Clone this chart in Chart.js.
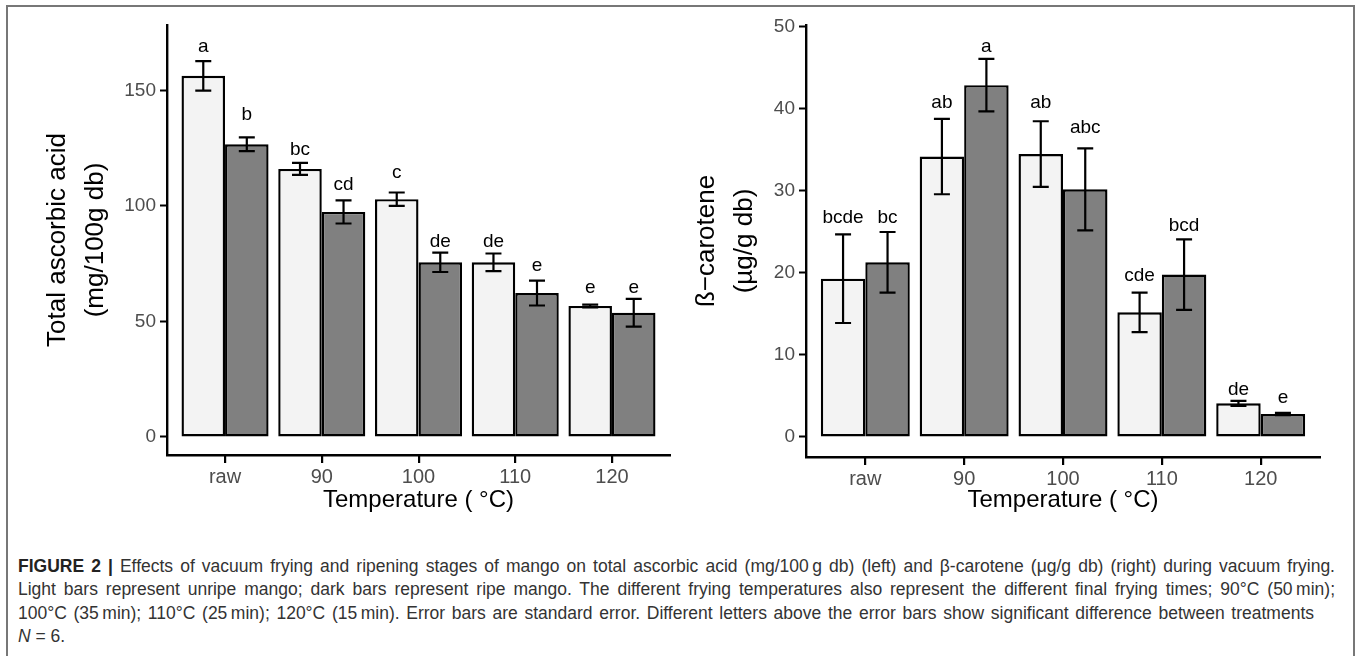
<!DOCTYPE html>
<html>
<head>
<meta charset="utf-8">
<script src="https://cdn.jsdelivr.net/npm/chart.js@4.4.0/dist/chart.umd.min.js"></script>
<style>
  body { margin: 0; background: #fff; width: 1360px; height: 656px; overflow: hidden; position: relative; font-family: 'Liberation Sans', Arial, sans-serif; }
  #frame { position: absolute; left: 6px; top: 5px; width: 1349px; height: 660px; border: 2px solid #777; border-bottom: none; box-sizing: border-box; }
  .cv { position: absolute; top: 0; }
  #caption { position: absolute; left: 18px; top: 555px; font-size: 17.5px; color: #333; line-height: 23.3px; }
  #caption div { white-space: nowrap; }
  #caption .j { text-align: justify; text-align-last: justify; width: 1317px; }
</style>
</head>
<body>
<div id="frame"></div>
<canvas id="left" class="cv" width="680" height="540" style="left:0px"></canvas>
<canvas id="right" class="cv" width="680" height="540" style="left:680px"></canvas>
<div id="caption">
  <div class="j"><b style="color:#222">FIGURE 2 |</b> Effects of vacuum frying and ripening stages of mango on total ascorbic acid (mg/100&#8201;g db) (left) and β-carotene (μg/g db) (right) during vacuum frying.</div>
  <div class="j">Light bars represent unripe mango; dark bars represent ripe mango. The different frying temperatures also represent the different final frying times; 90°C (50&#8201;min);</div>
  <div class="j" style="width:1296px">100°C (35&#8201;min); 110°C (25&#8201;min); 120°C (15&#8201;min). Error bars are standard error. Different letters above the error bars show significant difference between treatments</div>
  <div><i>N</i> = 6.</div>
</div>
<script>
// categories (temperature)
var temps = ["raw", "90", "100", "110", "120"];

// total ascorbic acid (mg/100g db)
var acidUnripe = [156.3, 116.0, 102.9, 75.6, 56.7];
var acidUnripeSE = [6.4, 2.6, 2.9, 3.8, 0.6];
var acidRipe = [126.7, 97.4, 75.6, 62.3, 53.8];
var acidRipeSE = [3.0, 5.0, 4.2, 5.4, 6.0];
var acidUnripeLetters = ["a", "bc", "c", "de", "e"];
var acidRipeLetters = ["b", "cd", "de", "e", "e"];
var acidUnripeLetterY = [169.0, 124.2, 114.4, 84.4, 64.5];
var acidRipeLetterY = [139.4, 109.1, 84.4, 74.0, 64.5];
var acidTicks = [0, 50, 100, 150];

// beta-carotene (ug/g db)
var caroUnripe = [19.3, 34.2, 34.5, 15.2, 4.1];
var caroUnripeSE = [5.4, 4.6, 4.0, 2.4, 0.3];
var caroRipe = [21.3, 42.9, 30.2, 19.8, 2.8];
var caroRipeSE = [3.7, 3.2, 5.0, 4.3, 0.15];
var caroUnripeLetters = ["bcde", "ab", "ab", "cde", "de"];
var caroRipeLetters = ["bc", "a", "abc", "bcd", "e"];
var caroUnripeLetterY = [26.7, 40.8, 40.8, 19.7, 5.8];
var caroRipeLetterY = [26.7, 47.6, 37.7, 25.8, 4.8];
var caroTicks = [0, 10, 20, 30, 40, 50];

Chart.defaults.font.family = "'Liberation Sans', Arial, sans-serif";

function pts(vals) {
  return vals.map(function (v, i) { return { x: i + 1, y: v }; });
}

// error bars, significance letters and x tick marks
var errorBars = {
  id: "errorBars",
  afterDatasetsDraw: function (chart) {
    var ctx = chart.ctx;
    var ys = chart.scales.y;
    ctx.save();
    chart.data.datasets.forEach(function (ds, di) {
      var meta = chart.getDatasetMeta(di);
      meta.data.forEach(function (bar, i) {
        var v = ds.data[i].y;
        var se = ds.se[i];
        var top = ys.getPixelForValue(v + se);
        var bot = ys.getPixelForValue(v - se);
        ctx.strokeStyle = "#000";
        ctx.lineWidth = 2.2;
        ctx.beginPath();
        ctx.moveTo(bar.x, top); ctx.lineTo(bar.x, bot);
        ctx.moveTo(bar.x - 8, top); ctx.lineTo(bar.x + 8, top);
        ctx.moveTo(bar.x - 8, bot); ctx.lineTo(bar.x + 8, bot);
        ctx.stroke();
        ctx.fillStyle = "#000";
        ctx.font = "19px 'Liberation Sans', Arial, sans-serif";
        ctx.textAlign = "center";
        ctx.textBaseline = "middle";
        ctx.fillText(ds.letters[i], bar.x, ys.getPixelForValue(ds.letterY[i]));
      });
    });
    ctx.restore();
  },
  afterDraw: function (chart) {
    var ctx = chart.ctx;
    var xs = chart.scales.x;
    var base = chart.chartArea.bottom;
    ctx.save();
    ctx.fillStyle = "#000";
    xs.ticks.forEach(function (t) {
      var px = Math.round(xs.getPixelForValue(t.value));
      ctx.fillRect(px - 1, base, 2.2, 8);
    });
    ctx.restore();
  }
};

function makeChart(id, o) {
  return new Chart(document.getElementById(id), {
    type: "bar",
    data: {
      datasets: [
        {
          label: "unripe",
          data: pts(o.light),
          se: o.lightSE,
          letters: o.lightLetters,
          letterY: o.lightLetterY,
          backgroundColor: "#f3f3f3",
          borderColor: "#000",
          borderWidth: 2.4,
          borderSkipped: false,
        },
        {
          label: "ripe",
          data: pts(o.dark),
          se: o.darkSE,
          letters: o.darkLetters,
          letterY: o.darkLetterY,
          backgroundColor: "#808080",
          borderColor: "#000",
          borderWidth: 2.4,
          borderSkipped: false,
        },
      ],
    },
    options: {
      responsive: false,
      animation: false,
      layout: { padding: { top: 25, right: o.padRight, left: 0, bottom: 0 } },
      datasets: { bar: { categoryPercentage: 0.9, barPercentage: 1 } },
      plugins: { legend: { display: false }, tooltip: { enabled: false } },
      scales: {
        x: {
          type: "linear",
          min: 0.4,
          max: 5.6,
          offset: false,
          afterBuildTicks: function (ax) {
            ax.ticks = temps.map(function (t, i) { return { value: i + 1 }; });
          },
          afterFit: function (s) { s.height = o.xHeight; },
          grid: { display: false, offset: false, drawTicks: false },
          border: { display: true, color: "#000", width: 2.4 },
          ticks: {
            color: "#4d4d4d",
            font: { size: 20 },
            padding: 10,
            maxRotation: 0,
            callback: function (v) { return temps[Math.round(v) - 1]; },
          },
          title: { display: true, text: "Temperature ( °C)", color: "#000", font: { size: 24 }, padding: { top: 0, bottom: 25 } },
        },
        y: {
          min: o.yMin,
          max: o.yMax,
          afterBuildTicks: function (ax) {
            ax.ticks = o.ticks.map(function (v) { return { value: v }; });
          },
          afterFit: function (s) { s.width = o.yWidth; },
          grid: { display: true, drawOnChartArea: false, drawTicks: true, tickLength: 7, tickWidth: 2, tickColor: "#000" },
          border: { display: true, color: "#000", width: 2.4 },
          ticks: { color: "#4d4d4d", font: { size: 19 }, padding: 4 },
          title: { display: true, text: o.title, color: "#000", font: { size: 26, lineHeight: 1.46 }, padding: { top: o.titlePad, bottom: 0 } },
        },
      },
    },
    plugins: [errorBars],
  });
}

makeChart("left", {
  light: acidUnripe, lightSE: acidUnripeSE, lightLetters: acidUnripeLetters, lightLetterY: acidUnripeLetterY,
  dark: acidRipe, darkSE: acidRipeSE, darkLetters: acidRipeLetters, darkLetterY: acidRipeLetterY,
  ticks: acidTicks, yMin: -7.8, yMax: 178.3,
  title: ["Total ascorbic acid", "(mg/100g db)"], titlePad: 39,
  yWidth: 167, padRight: 10, xHeight: 85,
});

makeChart("right", {
  light: caroUnripe, lightSE: caroUnripeSE, lightLetters: caroUnripeLetters, lightLetterY: caroUnripeLetterY,
  dark: caroRipe, darkSE: caroRipeSE, darkLetters: caroRipeLetters, darkLetterY: caroRipeLetterY,
  ticks: caroTicks, yMin: -2.44, yMax: 50.24,
  title: ["ß\u2212carotene", "(µg/g db)"], titlePad: 8,
  yWidth: 126, padRight: 40, xHeight: 83,
});
</script>
</body>
</html>
